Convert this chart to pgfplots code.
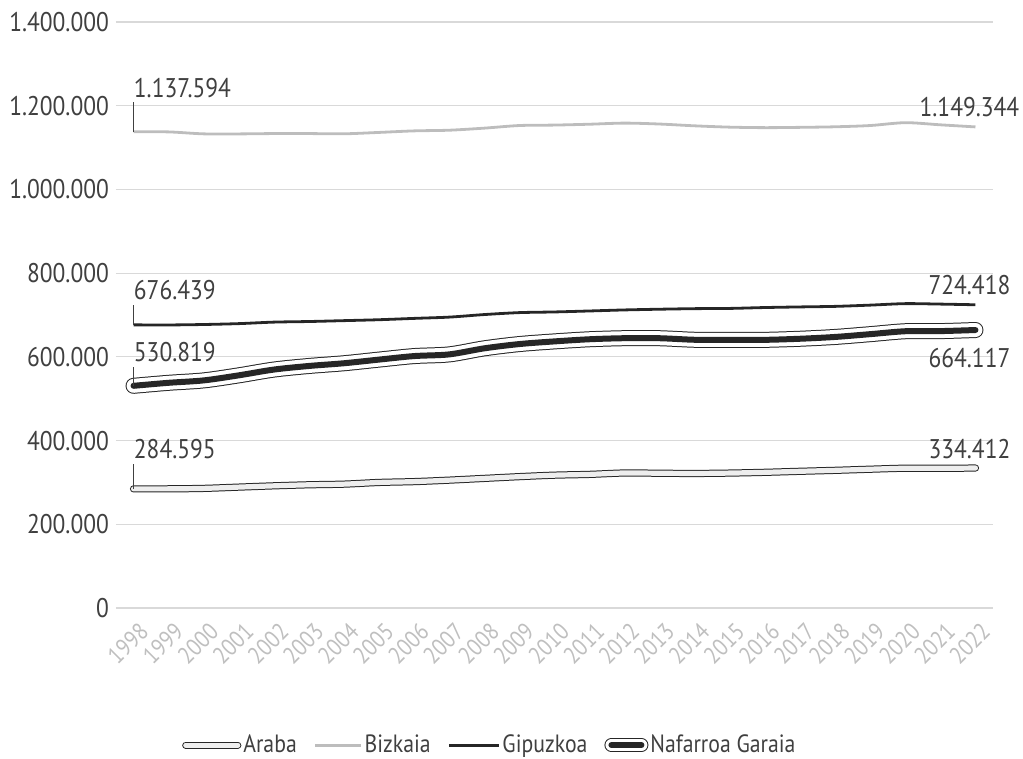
\documentclass[border=0pt]{standalone}
\usepackage{fontspec}
\setmainfont{PT Sans}[FakeStretch=0.87]
\usepackage{pgfplots}
\usepackage{pgfplotstable}
\pgfplotsset{compat=1.18}
\definecolor{txt}{HTML}{404040}
\definecolor{gridc}{HTML}{D9D9D9}
\definecolor{lgray}{HTML}{BFBFBF}
\definecolor{bizk}{HTML}{BDBDBD}
\definecolor{dark}{HTML}{262626}
\definecolor{arfill}{HTML}{EEEEEE}

\pgfplotstableread{
year araba bizkaia gipuzkoa nafarroa
1998 284595 1137594 676439 530819
1999 284658 1137418 676208 538009
2000 285748 1132729 677275 543757
2001 288793 1132616 679370 555829
2002 291860 1133444 682977 569628
2003 294360 1133428 684416 578210
2004 295905 1132861 686513 584734
2005 299957 1136181 688708 593472
2006 301926 1139863 691895 601874
2007 305459 1141457 694944 605876
2008 309635 1146421 701056 620377
2009 313819 1152658 705698 630578
2010 317352 1153724 707263 636924
2011 319227 1155772 709607 642051
2012 322557 1158439 712097 644566
2013 321932 1156190 713818 644477
2014 321417 1151905 715148 640790
2015 322335 1148775 715716 640476
2016 324126 1147576 717832 640647
2017 326574 1148302 719282 643234
2018 328868 1149628 720592 647554
2019 331549 1152651 723576 654214
2020 333940 1159443 727121 661197
2021 333626 1154334 726033 661537
2022 334412 1149344 724418 664117
}\datatable

\newcommand{\fs}{\fontsize{13.5}{16}\selectfont}
\begin{document}
\begin{tikzpicture}[font=\fs]
\useasboundingbox (-58pt,-75.5pt) rectangle (453.5pt,304pt);
\begin{axis}[
  at={(0,0)}, anchor=south west,
  scale only axis, width=438.5pt, height=293pt,
  xmin=1997.5, xmax=2022.5, ymin=0, ymax=1400000,
  scaled y ticks=false, scaled x ticks=false,
  xtick={1998,...,2022},
  xticklabels={1998,1999,2000,2001,2002,2003,2004,2005,2006,2007,2008,2009,2010,2011,2012,2013,2014,2015,2016,2017,2018,2019,2020,2021,2022},
  ytick={0,200000,400000,600000,800000,1000000,1200000,1400000},
  yticklabels={0,200.000,400.000,600.000,800.000,1.000.000,1.200.000,1.400.000},
  ymajorgrids, major grid style={draw=gridc, line width=0.6pt},
  axis line style={draw=none},
  major tick style={draw=none},
  xticklabel style={rotate=45, anchor=north east, text=lgray, font=\fontsize{12}{14}\selectfont, inner sep=1pt, yshift=-5pt, xshift=-2pt},
  yticklabel style={text=txt, font=\fs},
  clip=false,
  legend columns=4,
  legend style={at={(0.075,-0.234)}, anchor=west, draw=none, fill=none, inner sep=0pt,
    font=\fontsize{12.5}{15}\selectfont, text=txt, nodes={inner sep=1pt},
    /tikz/every odd column/.append style={column sep=0pt},
    /tikz/every even column/.append style={column sep=7.5pt}},
  legend cell align=left,
]
\addplot[smooth, draw=dark, double=arfill, double distance=2.6pt, line width=0.5pt, line cap=round,
  legend image code/.code={\draw[draw=dark, double=arfill, double distance=2.6pt, line width=0.5pt, line cap=round] (0pt,0pt) -- (26pt,0pt);}]
  table[x=year,y=araba]{\datatable};
\addlegendentry{Araba}
\addplot[smooth, draw=bizk, line width=1.4pt,
  legend image code/.code={\draw[draw=bizk, line width=1.4pt] (0pt,0pt) -- (23pt,0pt);}]
  table[x=year,y=bizkaia]{\datatable};
\addlegendentry{Bizkaia}
\addplot[smooth, draw=dark, line width=1.4pt,
  legend image code/.code={\draw[draw=dark, line width=1.4pt] (0pt,0pt) -- (25pt,0pt);}]
  table[x=year,y=gipuzkoa]{\datatable};
\addlegendentry{Gipuzkoa}
\addplot[smooth, forget plot, draw=dark, double=white, double distance=7pt, line width=0.5pt, line cap=round]
  table[x=year,y=nafarroa]{\datatable};
\addplot[smooth, draw=dark, line width=3pt, line cap=round,
  legend image code/.code={\draw[draw=dark, double=white, double distance=6pt, line width=0.5pt, line cap=round] (3pt,0pt) -- (18pt,0pt);
     \draw[draw=dark, line width=3pt, line cap=round] (3pt,0pt) -- (18pt,0pt);}]
  table[x=year,y=nafarroa]{\datatable};
\addlegendentry{Nafarroa Garaia}

% start labels with leaders
\draw[txt, line width=0.6pt] (axis cs:1998,1137594) -- ++(0pt,15pt);
\node[anchor=base west, inner sep=0pt, text=txt, yshift=17pt] at (axis cs:1998,1137594) {1.137.594};
\draw[txt, line width=0.6pt] (axis cs:1998,676439) -- ++(0pt,10pt);
\node[anchor=base west, inner sep=0pt, text=txt, yshift=12.5pt] at (axis cs:1998,676439) {676.439};
\draw[txt, line width=0.6pt] (axis cs:1998,530819) -- ++(0pt,9.5pt);
\node[anchor=base west, inner sep=0pt, text=txt, yshift=12pt] at (axis cs:1998,530819) {530.819};
\draw[txt, line width=0.6pt] (axis cs:1998,284595) -- ++(0pt,12.5pt);
\node[anchor=base west, inner sep=0pt, text=txt, yshift=15pt] at (axis cs:1998,284595) {284.595};
% end labels
\node[anchor=base, inner sep=0pt, text=txt, yshift=5pt, xshift=-3pt] at (axis cs:2022,1149344) {1.149.344};
\node[anchor=base, inner sep=0pt, text=txt, yshift=5pt, xshift=-3pt] at (axis cs:2022,724418) {724.418};
\node[anchor=base, inner sep=0pt, text=txt, yshift=-18.5pt, xshift=-3pt] at (axis cs:2022,664117) {664.117};
\node[anchor=base, inner sep=0pt, text=txt, yshift=5pt, xshift=-3pt] at (axis cs:2022,334412) {334.412};
\end{axis}
\end{tikzpicture}
\end{document}
